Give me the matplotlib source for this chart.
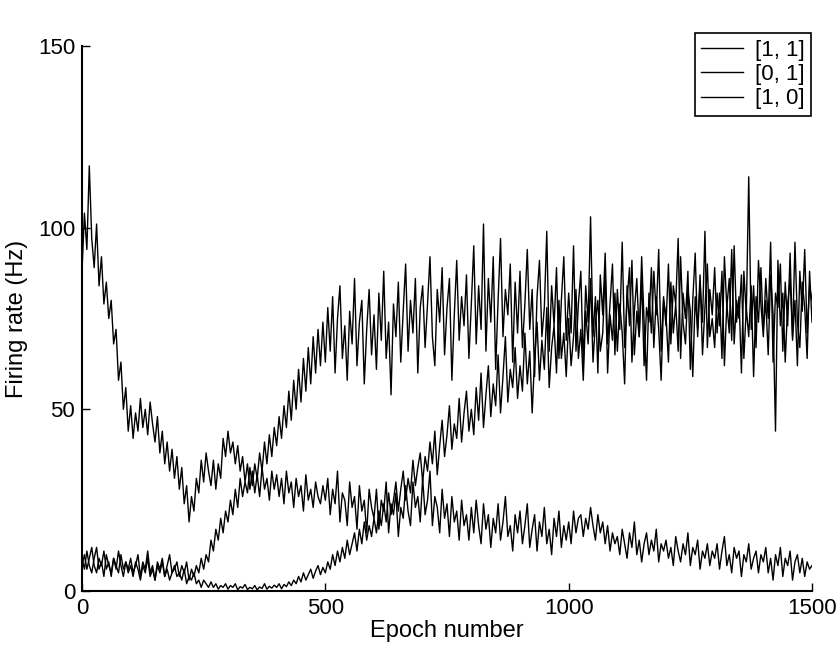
import numpy as np
import matplotlib
matplotlib.use("Agg")
import matplotlib.pyplot as plt

# firing rate per pattern, every 5 epochs (0..1500)
epochs = np.arange(0, 1501, 5)

rate_11 = [
    88, 104, 94, 117, 97, 89, 101, 84, 92, 79, 85, 75, 80, 68, 72, 58, 63, 50, 56, 44,
    51, 42, 49, 44, 53, 45, 50, 43, 52, 46, 41, 48, 38, 44, 35, 41, 33, 39, 31, 37,
    28, 34, 24, 29, 19, 26, 22, 31, 27, 36, 30, 38, 33, 29, 36, 28, 35, 31, 42, 37,
    44, 38, 41, 35, 40, 33, 37, 30, 35, 28, 33, 27, 32, 26, 34, 28, 31, 25, 33, 28,
    32, 26, 31, 24, 33, 27, 30, 23, 31, 26, 29, 22, 32, 25, 28, 23, 30, 26, 24, 29,
    25, 31, 21, 28, 24, 33, 19, 27, 25, 18, 30, 23, 26, 17, 29, 22, 25, 16, 28, 23,
    20, 28, 17, 25, 22, 30, 16, 24, 21, 27, 15, 23, 20, 29, 22, 18, 30, 23, 26, 19,
    31, 21, 25, 33, 18, 26, 23, 16, 28, 20, 24, 15, 26, 19, 22, 14, 25, 18, 21, 14,
    23, 16, 25, 18, 13, 24, 17, 21, 12, 20, 16, 24, 14, 19, 26, 15, 18, 11, 21, 16,
    22, 13, 18, 24, 12, 17, 21, 11, 19, 15, 23, 13, 17, 10, 20, 15, 22, 12, 18, 14,
    19, 13, 22, 16, 20, 21, 15, 20, 17, 23, 18, 14, 21, 16, 19, 13, 18, 11, 16, 13,
    15, 10, 17, 13, 9, 16, 12, 19, 10, 14, 8, 13, 16, 10, 14, 11, 17, 8, 13, 11,
    14, 9, 12, 7, 15, 11, 8, 13, 10, 16, 7, 12, 10, 14, 6, 11, 9, 13, 7, 11,
    9, 13, 6, 11, 15, 7, 10, 5, 12, 9, 11, 4, 10, 8, 13, 6, 9, 11, 5, 10,
    8, 12, 5, 9, 3, 10, 7, 12, 4, 9, 7, 11, 3, 8, 10, 5, 9, 4, 8, 6,
    7,
]

rate_01 = [
    9, 6, 11, 7, 5, 9, 12, 6, 8, 4, 10, 7, 5, 9, 6, 11, 7, 4, 8, 6,
    9, 5, 7, 10, 4, 8, 6, 11, 5, 7, 3, 8, 6, 9, 4, 7, 10, 5, 6, 8,
    4, 7, 5, 8, 3, 6, 4, 7, 5, 9, 6, 10, 8, 14, 11, 17, 14, 20, 16, 22,
    19, 25, 21, 28, 23, 31, 26, 30, 27, 34, 29, 35, 31, 38, 33, 41, 35, 43, 37, 45,
    40, 48, 42, 51, 45, 55, 47, 58, 50, 61, 52, 64, 55, 67, 57, 70, 60, 72, 62, 74,
    63, 78, 66, 81, 60, 75, 84, 64, 73, 58, 77, 68, 86, 62, 74, 80, 57, 72, 83, 65,
    76, 61, 82, 69, 88, 64, 74, 54, 79, 70, 85, 63, 77, 90, 66, 80, 71, 86, 60, 78,
    84, 67, 79, 92, 70, 62, 83, 74, 89, 65, 78, 86, 58, 76, 91, 69, 81, 73, 87, 64,
    79, 95, 68, 84, 72, 101, 66, 86, 74, 92, 61, 80, 97, 70, 83, 76, 90, 63, 85, 71,
    88, 67, 79, 94, 72, 83, 59, 81, 91, 70, 78, 99, 66, 84, 73, 89, 64, 80, 92, 69,
    82, 71, 95, 66, 79, 88, 62, 84, 74, 103, 70, 81, 60, 87, 76, 93, 68, 79, 90, 65,
    83, 72, 96, 67, 80, 89, 63, 77, 86, 70, 92, 74, 58, 82, 71, 88, 76, 94, 66, 81,
    73, 90, 68, 84, 79, 97, 64, 82, 75, 88, 61, 80, 93, 70, 85, 74, 99, 67, 83, 76,
    89, 71, 82, 64, 92, 78, 86, 69, 95, 74, 81, 60, 88, 76, 114, 72, 84, 67, 91, 79,
    70, 86, 75, 96, 63, 82, 78, 90, 66, 85, 73, 93, 69, 80, 62, 88, 77, 94, 71, 84,
    80,
]

rate_10 = [
    7, 10, 6, 9, 12, 7, 5, 9, 7, 11, 6, 8, 4, 9, 7, 5, 10, 6, 8, 5,
    7, 4, 8, 6, 3, 7, 5, 9, 4, 6, 3, 7, 5, 8, 4, 6, 3, 5, 7, 4,
    5, 3, 6, 2, 4, 3, 5, 2, 3, 1, 3, 2, 1, 2.5, 1, 2, 0.5, 1.5, 1, 2,
    0.5, 1.5, 1, 2, 0.3, 1.2, 0.8, 1.8, 0.4, 1, 0.6, 1.5, 0.3, 1.1, 0.7, 2, 0.5, 1.3, 0.8, 1.6,
    1, 2, 0.6, 1.8, 1.2, 2.5, 1.5, 3, 2, 4, 2.5, 5, 3, 4.5, 6, 3.5, 5.5, 7, 4.5, 6.5,
    5, 8, 6, 10, 7, 11, 8, 12, 9, 14, 10, 13, 16, 11, 17, 13, 19, 14, 18, 15,
    20, 16, 22, 18, 24, 19, 27, 21, 25, 30, 22, 28, 33, 25, 31, 27, 36, 29, 34, 38,
    30, 37, 33, 41, 35, 44, 32, 40, 47, 37, 43, 51, 39, 46, 42, 53, 41, 49, 55, 44,
    50, 43, 56, 47, 60, 45, 54, 62, 48, 57, 51, 65, 49, 59, 70, 52, 61, 56, 67, 53,
    62, 55, 71, 57, 66, 49, 64, 74, 58, 69, 61, 78, 56, 67, 73, 60, 80, 64, 71, 59,
    75, 62, 70, 83, 64, 72, 58, 77, 68, 86, 63, 74, 80, 66, 71, 88, 60, 76, 69, 82,
    66, 79, 71, 57, 84, 73, 91, 65, 77, 70, 86, 62, 78, 74, 89, 67, 81, 72, 58, 80,
    76, 63, 85, 71, 79, 66, 92, 74, 68, 83, 77, 59, 81, 72, 87, 65, 78, 90, 70, 75,
    67, 82, 73, 88, 62, 79, 71, 94, 68, 80, 75, 87, 64, 78, 70, 84, 59, 81, 74, 89,
    72, 80, 65, 87, 76, 44, 91, 73, 82, 63, 79, 86, 70, 96, 74, 67, 85, 78, 64, 88,
    74,
]

labels = ["[1, 1]", "[0, 1]", "[1, 0]"]

plt.rcParams["font.family"] = ["Liberation Sans", "DejaVu Sans"]

fig = plt.figure(figsize=(8.39, 6.45), dpi=100)
ax = fig.add_axes([82 / 839, 1 - 591 / 645, 730 / 839, 545 / 645])

for series, lab in zip([rate_11, rate_01, rate_10], labels):
    ax.plot(epochs, series, color="black", lw=1.0, label=lab)

ax.set_xlim(0, 1500)
ax.set_ylim(0, 150)
ax.set_xticks([0, 500, 1000, 1500])
ax.set_yticks([0, 50, 100, 150])
ax.tick_params(direction="in", length=6, width=1, labelsize=16, pad=5)
for s in ["top", "right"]:
    ax.spines[s].set_visible(False)
for s in ["left", "bottom"]:
    ax.spines[s].set_linewidth(1.5)

ax.set_xlabel("Epoch number", fontsize=17, labelpad=1)
ax.set_ylabel("Firing rate (Hz)", fontsize=17, labelpad=7)

leg = ax.legend(loc="upper right", bbox_to_anchor=(811 / 839, 1 - 33 / 645),
                bbox_transform=fig.transFigure, borderaxespad=0, fontsize=16,
                fancybox=False, framealpha=1, edgecolor="black",
                handlelength=1.9, handletextpad=0.5, labelspacing=0.15,
                borderpad=0.3)
leg.get_frame().set_linewidth(1.2)

fig.savefig("out.png", dpi=100)
